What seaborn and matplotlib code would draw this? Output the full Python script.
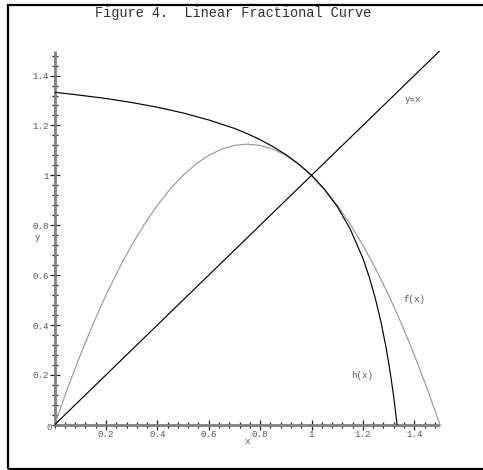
import matplotlib
matplotlib.use("Agg")
import matplotlib.pyplot as plt
import seaborn as sns
import pandas as pd
from matplotlib.patches import Rectangle
from matplotlib.ticker import MultipleLocator

# ---- data ----
f_x = [0, 0.05, 0.1, 0.15, 0.2, 0.25, 0.3, 0.35, 0.4, 0.45, 0.5, 0.55, 0.6, 0.65,
       0.7, 0.75, 0.8, 0.85, 0.9, 0.95, 1.0, 1.05, 1.1, 1.15, 1.2, 1.25, 1.3, 1.35,
       1.4, 1.45, 1.5]
f_y = [0, 0.145, 0.28, 0.405, 0.52, 0.625, 0.72, 0.805, 0.88, 0.945, 1.0, 1.045,
       1.08, 1.105, 1.12, 1.125, 1.12, 1.105, 1.08, 1.045, 1.0, 0.945, 0.88, 0.805,
       0.72, 0.625, 0.52, 0.405, 0.28, 0.145, 0]
h_x = [0, 0.1, 0.2, 0.3, 0.4, 0.5, 0.6, 0.7, 0.75, 0.8, 0.85, 0.9, 0.95, 1.0, 1.05,
       1.1, 1.15, 1.2, 1.225, 1.25, 1.27, 1.29, 1.30, 1.31, 1.32, 1.333]
h_y = [1.333, 1.321, 1.308, 1.292, 1.273, 1.25, 1.222, 1.188, 1.167, 1.143, 1.115,
       1.083, 1.045, 1.0, 0.944, 0.875, 0.786, 0.667, 0.591, 0.5, 0.413, 0.31, 0.25,
       0.184, 0.111, 0]
id_x = [0, 1.5]
id_y = [0, 1.5]
tick_vals = [0.2, 0.4, 0.6, 0.8, 1.0, 1.2, 1.4]
tick_labels = ["0.2", "0.4", "0.6", "0.8", "1", "1.2", "1.4"]
title = "Figure 4.  Linear Fractional Curve"

sns.set_style("white")
plt.rcParams['font.family'] = ['Liberation Mono', 'DejaVu Sans Mono']

W, H = 483, 470
fig = plt.figure(figsize=(W / 100, H / 100), dpi=100)

def px(x, y):
    return x / W, 1 - y / H

# outer frame
fig.patches.append(Rectangle(px(7.5, 469.3), (495 - 7.5) / W, (469.3 - 4.5) / H,
                             transform=fig.transFigure, fill=False,
                             edgecolor='black', linewidth=1.6))

left, right = 54.6, 440.0
bottom, top = 424.8, 50.6
ax = fig.add_axes([left / W, 1 - bottom / H, (right - left) / W, (bottom - top) / H])
ax.patch.set_alpha(0)

df_f = pd.DataFrame({"x": f_x, "y": f_y})
df_h = pd.DataFrame({"x": h_x, "y": h_y})
df_i = pd.DataFrame({"x": id_x, "y": id_y})
sns.lineplot(data=df_f, x="x", y="y", ax=ax, color="#999999", linewidth=0.85,
             sort=False, estimator=None)
sns.lineplot(data=df_h, x="x", y="y", ax=ax, color="black", linewidth=0.85,
             sort=False, estimator=None)
sns.lineplot(data=df_i, x="x", y="y", ax=ax, color="black", linewidth=0.85,
             sort=False, estimator=None)

ax.set_xlim(0, 1.5)
ax.set_ylim(0, 1.5)
for s in ["top", "right"]:
    ax.spines[s].set_visible(False)
for s in ["left", "bottom"]:
    ax.spines[s].set_color("#808080")
    ax.spines[s].set_linewidth(2.0)
    ax.spines[s].set_zorder(1)
    ax.spines[s].set_capstyle("butt")

ax.set_xticks(tick_vals)
ax.set_xticklabels(tick_labels)
ax.set_yticks(tick_vals)
ax.set_yticklabels(tick_labels)
ax.xaxis.set_minor_locator(MultipleLocator(0.04))
ax.yaxis.set_minor_locator(MultipleLocator(0.04))
ax.tick_params(which="major", direction="inout", length=7, width=0.9,
               color="#222222", labelsize=6.6, labelcolor="#555555", pad=0.5,
               bottom=True, left=True)
ax.tick_params(which="minor", direction="inout", length=4, width=0.9,
               color="#222222", bottom=True, left=True)
ax.set_xlabel("")
ax.set_ylabel("")

txt_kw = dict(fontsize=6.6, color="#555555", ha="center", va="center")
fig.text(*px(49.5, 428), "0", **txt_kw)
fig.text(*px(247, 441), "x", **txt_kw)
fig.text(*px(37, 237), "y", **txt_kw)
fig.text(*px(413, 100), "y=x", **txt_kw)
fig.text(*px(414, 300), "f(x)", **txt_kw)
fig.text(*px(362, 375), "h(x)", **txt_kw)
fig.text(*px(233, 13), title, fontsize=9.8, color="#333333", ha="center", va="center")

fig.savefig("out.png", dpi=100)
